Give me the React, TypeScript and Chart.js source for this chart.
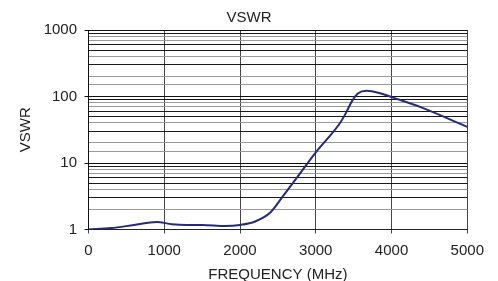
import React, { useEffect, useRef } from "react";
import { Chart, registerables } from "chart.js";

Chart.register(...registerables);

const frequencies = [0, 300, 600, 900, 1100, 1300, 1500, 1800, 2000, 2200, 2400, 2570, 2750, 3000, 3320, 3410, 3480, 3560, 3670, 3850, 4000, 4400, 5000];
const vswr = [1.0, 1.05, 1.17, 1.3, 1.2, 1.17, 1.17, 1.13, 1.17, 1.32, 1.8, 3.2, 6.0, 14.5, 40, 60, 86, 112, 122, 112, 98, 68, 35];
const xTicks = [0, 1000, 2000, 3000, 4000, 5000];
const yMajor = [1, 10, 100, 1000];

const FONT = "'Liberation Sans', Arial, sans-serif";

export default function App() {
  const ref = useRef<HTMLCanvasElement>(null);
  useEffect(() => {
    document.body.style.margin = "0";
    const isMajor = (v: number) => yMajor.some((m) => Math.abs(m - v) < 1e-6);
    const minorColor = (v: number) => {
      const lead = Math.round(v / Math.pow(10, Math.floor(Math.log10(v) + 1e-9)));
      return [2, 4, 7, 8].includes(lead) ? "#9a9a9a" : "#1a1a1a";
    };
    const chart = new Chart(ref.current!, {
      type: "line",
      data: {
        datasets: [
          {
            data: frequencies.map((f, i) => ({ x: f, y: vswr[i] })),
            borderColor: "#262a7c",
            borderWidth: 2,
            pointRadius: 0,
            cubicInterpolationMode: "monotone",
            fill: false,
            yAxisID: "y",
          },
        ],
      },
      options: {
        animation: false,
        responsive: false,
        layout: { padding: 0 },
        plugins: {
          legend: { display: false },
          tooltip: { enabled: false },
          title: {
            display: true,
            text: "VSWR",
            color: "#222",
            font: { family: FONT, size: 15, weight: "normal", lineHeight: 1.2 },
            padding: { top: 9.3, bottom: 2.7 },
          },
        },
        scales: {
          x: {
            type: "linear",
            min: 0,
            max: 5000,
            afterBuildTicks: (s: any) => {
              s.ticks = xTicks.map((v) => ({ value: v }));
            },
            afterFit: (s: any) => {
              s.height = 51.5;
            },
            ticks: {
              color: "#222",
              font: { family: FONT, size: 15 },
              padding: 8,
              maxRotation: 0,
              autoSkip: false,
              callback: (v: any) => String(v),
            },
            grid: { color: "#444", lineWidth: 1, tickLength: 4, tickColor: "#444" },
            border: { color: "#222", width: 1 },
            title: {
              display: true,
              text: "FREQUENCY (MHz)",
              color: "#222",
              font: { family: FONT, size: 15, lineHeight: 0.8 },
              padding: { top: 0, bottom: 0 },
            },
          },
          y: {
            type: "logarithmic",
            min: 1,
            max: 1000,
            afterFit: (s: any) => {
              s.width = 88.5;
            },
            ticks: {
              color: "#222",
              font: { family: FONT, size: 15 },
              padding: 7.5,
              autoSkip: false,
              callback: (v: any) => (isMajor(Number(v)) ? String(v) : ""),
            },
            grid: {
              lineWidth: 1,
              tickLength: 4,
              color: (ctx: any) => (isMajor(ctx.tick.value) ? "#111" : minorColor(ctx.tick.value)),
              tickColor: (ctx: any) => (isMajor(ctx.tick.value) ? "#111" : "rgba(0,0,0,0)"),
            },
            border: { color: "#111", width: 1 },
            title: {
              display: true,
              text: "VSWR",
              color: "#222",
              font: { family: FONT, size: 15, lineHeight: 1.2 },
              padding: { top: 17, bottom: 0 },
            },
          },
          spacer: {
            type: "linear",
            position: "right",
            display: true,
            min: 0,
            max: 1,
            afterFit: (s: any) => {
              s.width = 30.7;
            },
            ticks: { display: false },
            grid: { display: false, drawOnChartArea: false },
            border: { display: false },
          },
        },
      },
    } as any);
    return () => chart.destroy();
  }, []);
  return (
    <div style={{ width: 498, height: 281 }}>
      <canvas ref={ref} width={498} height={281} style={{ display: "block" }} />
    </div>
  );
}
